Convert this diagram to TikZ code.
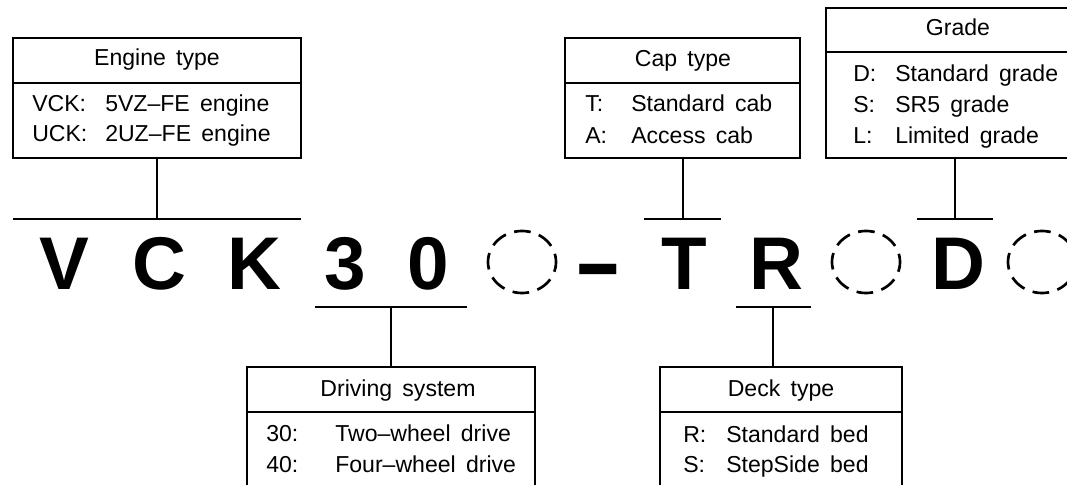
\documentclass[tikz,border=0pt]{standalone}
\usepackage{fontspec}
\setmainfont{Liberation Sans}
\newfontfamily\lblfont[WordSpace=1.6]{Liberation Sans}
\usetikzlibrary{fit,shapes.geometric}
\begin{document}
\begin{tikzpicture}[x=0.75pt,y=-0.75pt,
  box/.style={draw, line width=1pt, inner sep=0pt},
  divider/.style={line width=1pt},
  conn/.style={line width=1pt},
  lbl/.style={font=\lblfont\fontsize{17.3}{19}\selectfont, anchor=base west, inner sep=0pt},
  hdr/.style={font=\lblfont\fontsize{17.3}{19}\selectfont, anchor=base, inner sep=0pt},
  big/.style={font=\fontsize{56}{60}\selectfont\bfseries, anchor=base, inner sep=0pt},
  slot/.style={draw, ellipse, line width=2pt, minimum width=51pt, minimum height=46.5pt,
    inner sep=0pt, dash pattern=on 12.5pt off 6.5pt, dash phase=6.25pt}]
\useasboundingbox (0,0) rectangle (1067,485);
\clip (0,0) rectangle (1067,485);

% ---------- big code letters ----------
\node[big] (cV) at (64,289) {V};
\node[big] (cC) at (159,289) {C};
\node[big] (cK) at (254,289) {K};
\node[big] (c3) at (345,289) {3};
\node[big] (c0) at (428,289) {0};
\node[slot] (s1) at (522,262) {};
\node[big] (cdash) at (598,289) {\raisebox{-6.5pt}{\scalebox{1}[1.4]{–}}};
\node[big] (cT) at (684,289) {T};
\node[big] (cR) at (776,289) {R};
\node[slot] (s2) at (866,262) {};
\node[big] (cD) at (958,289) {D};
\node[slot] (s3) at (1042,262) {};

% ---------- Engine type ----------
\node[box, fit={(13,38) (301,158)}] (eng) {};
\draw[divider] (eng.west |- 0,83) -- (eng.east |- 0,83);
\node[hdr] (engh) at (157,66) {Engine type};
\node[lbl] (engk1) at (32,112) {VCK:};
\node[lbl] (engv1) at (105,112) {5VZ–FE engine};
\node[lbl] (engk2) at (32,142) {UCK:};
\node[lbl] (engv2) at (105,142) {2UZ–FE engine};
\coordinate (engbar) at (157,219);
\coordinate (engbarL) at (13,219);
\coordinate (engbarR) at (301,219);
\draw[conn] (eng.south) -- (engbar);
\draw[conn] (engbarL) -- (engbarR);

% ---------- Cap type ----------
\node[box, fit={(565,38) (800,158)}] (cap) {};
\draw[divider] (cap.west |- 0,83) -- (cap.east |- 0,83);
\node[hdr] (caph) at (683,67) {Cap type};
\node[lbl] (capk1) at (585,112) {T:};
\node[lbl] (capv1) at (631,112) {Standard cab};
\node[lbl] (capk2) at (585,143) {A:};
\node[lbl] (capv2) at (631,143) {Access cab};
\coordinate (capbar) at (683,219);
\coordinate (capbarL) at (644,219);
\coordinate (capbarR) at (721,219);
\draw[conn] (cap.south -| capbar) -- (capbar);
\draw[conn] (capbarL) -- (capbarR);

% ---------- Grade ----------
\node[box, fit={(826,8) (1090,158)}] (grd) {};
\draw[divider] (grd.west |- 0,52) -- (grd.east |- 0,52);
\node[hdr] (grdh) at (958,36) {Grade};
\node[lbl] (grdk1) at (853,82) {D:};
\node[lbl] (grdv1) at (895,82) {Standard grade};
\node[lbl] (grdk2) at (853,113) {S:};
\node[lbl] (grdv2) at (895,113) {SR5 grade};
\node[lbl] (grdk3) at (853,143) {L:};
\node[lbl] (grdv3) at (895,143) {Limited grade};
\coordinate (grdbar) at (955,219);
\coordinate (grdbarL) at (917,219);
\coordinate (grdbarR) at (993,219);
\draw[conn] (grd.south -| grdbar) -- (grdbar);
\draw[conn] (grdbarL) -- (grdbarR);

% ---------- Driving system ----------
\node[box, fit={(247,367) (535,500)}] (drv) {};
\draw[divider] (drv.west |- 0,412) -- (drv.east |- 0,412);
\node[hdr] (drvh) at (398,396) {Driving system};
\node[lbl] (drvk1) at (266,441) {30:};
\node[lbl] (drvv1) at (335,441) {Two–wheel drive};
\node[lbl] (drvk2) at (266,472) {40:};
\node[lbl] (drvv2) at (335,472) {Four–wheel drive};
\coordinate (drvbar) at (391,307);
\coordinate (drvbarL) at (315,307);
\coordinate (drvbarR) at (467,307);
\draw[conn] (drvbar) -- (drv.north -| drvbar);
\draw[conn] (drvbarL) -- (drvbarR);

% ---------- Deck type ----------
\node[box, fit={(660,367) (902,500)}] (dck) {};
\draw[divider] (dck.west |- 0,412) -- (dck.east |- 0,412);
\node[hdr] (dckh) at (781,396) {Deck type};
\node[lbl] (dckk1) at (683,442) {R:};
\node[lbl] (dckv1) at (726,442) {Standard bed};
\node[lbl] (dckk2) at (683,472) {S:};
\node[lbl] (dckv2) at (726,472) {StepSide bed};
\coordinate (dckbar) at (773,307);
\coordinate (dckbarL) at (736,307);
\coordinate (dckbarR) at (811,307);
\draw[conn] (dckbar) -- (dck.north -| dckbar);
\draw[conn] (dckbarL) -- (dckbarR);
\end{tikzpicture}
\end{document}
